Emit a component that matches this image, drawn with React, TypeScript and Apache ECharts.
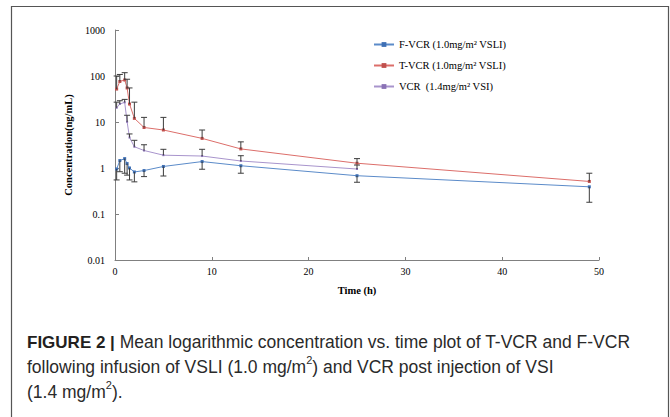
import React, { useEffect, useRef } from "react";
import * as echarts from "echarts";

// Sampling times (h)
const times = [0.17, 0.5, 1, 1.25, 1.5, 2, 3, 5, 9, 13, 25, 49];
// F-VCR (1.0 mg/m2 VSLI) mean and lower error end
const fvcr = [0.95, 1.45, 1.6, 1.25, 1.0, 0.82, 0.88, 1.08, 1.38, 1.12, 0.68, 0.39];
const fvcrLower = [0.55, 0.83, 0.77, 0.7, 0.55, 0.5, 0.65, 0.67, 0.94, 0.77, 0.49, 0.18];
// T-VCR (1.0 mg/m2 VSLI) mean and upper error end
const tvcr = [52, 76, 82, 55, 24.6, 12, 7.6, 6.7, 4.4, 2.6, 1.27, 0.51];
const tvcrUpper = [100, 108, 118, 85, 55, 27, 12.6, 12.6, 6.7, 3.7, 1.6, 0.77];
// VCR (1.4 mg/m2 VSI) mean and upper error end (sampled to 25 h)
const vcrTimes = [0.17, 0.5, 1, 1.25, 1.5, 2, 3, 5, 9, 13, 25];
const vcr = [20.4, 24.6, 26.8, 10.1, 4.6, 2.9, 2.4, 1.9, 1.82, 1.42, 0.95];
const vcrUpper = [27, 29, 31, 14, 5.5, 4.0, 3.2, 2.55, 2.55, 1.85, 1.16];

const seriesNames = [
  "F-VCR (1.0mg/m\u00B2 VSLI)",
  "T-VCR (1.0mg/m\u00B2 VSLI)",
  "VCR  (1.4mg/m\u00B2 VSI)",
];
const yTickLabels = ["0.01", "0.1", "1", "10", "100", "1000"];

const SERIF = "'Liberation Serif', 'Times New Roman', serif";
const SANS = "'Liberation Sans', Arial, sans-serif";

function errData(xs: number[], base: number[], end: number[]) {
  return xs.map((x, i) => [x, base[i], end[i]]);
}

function errorBarSeries(data: number[][]) {
  return {
    type: "custom",
    silent: true,
    z: 5,
    data,
    encode: { x: 0, y: [1, 2] },
    renderItem: (params: any, api: any) => {
      const x = api.value(0);
      const p0 = api.coord([x, api.value(1)]);
      const p1 = api.coord([x, api.value(2)]);
      const hw = 3;
      const style = { stroke: "#3c3c3c", lineWidth: 1 };
      return {
        type: "group",
        children: [
          { type: "line", shape: { x1: p0[0], y1: p0[1], x2: p1[0], y2: p1[1] }, style },
          { type: "line", shape: { x1: p1[0] - hw, y1: p1[1], x2: p1[0] + hw, y2: p1[1] }, style },
        ],
      };
    },
  };
}

export default function App() {
  const ref = useRef<HTMLDivElement>(null);
  useEffect(() => {
    document.body.style.margin = "0";
    if (!ref.current) return;
    const chart = echarts.init(ref.current, null, { renderer: "svg" });
    const pts = (xs: number[], ys: number[]) => xs.map((x, i) => [x, ys[i]]);
    chart.setOption({
      animation: false,
      backgroundColor: "#ffffff",
      grid: { left: 115, right: 71, top: 30, bottom: 157, containLabel: false },
      legend: {
        orient: "vertical",
        left: 368,
        top: 34,
        itemWidth: 20,
        itemHeight: 6,
        itemGap: 10,
        data: seriesNames,
        textStyle: { fontFamily: SERIF, fontSize: 10.5, color: "#000" },
      },
      xAxis: {
        type: "value",
        min: 0,
        max: 50,
        interval: 10,
        name: "Time (h)",
        nameLocation: "middle",
        nameGap: 25,
        nameTextStyle: { fontFamily: SERIF, fontSize: 10.5, fontWeight: "bold", color: "#000" },
        axisLine: { lineStyle: { color: "#808080" } },
        axisTick: { inside: true, length: 3, lineStyle: { color: "#808080" } },
        axisLabel: { fontFamily: SERIF, fontSize: 10, color: "#000", margin: 6 },
        splitLine: { show: false },
      },
      yAxis: {
        type: "log",
        logBase: 10,
        min: 0.01,
        max: 1000,
        name: "Concentration(ng/mL)",
        nameLocation: "middle",
        nameGap: 37,
        nameTextStyle: { fontFamily: SERIF, fontSize: 10.5, fontWeight: "bold", color: "#000" },
        axisLine: { show: true, lineStyle: { color: "#808080" } },
        axisTick: { show: true, inside: true, length: 4, lineStyle: { color: "#808080" } },
        axisLabel: {
          fontFamily: SERIF,
          fontSize: 10,
          color: "#000",
          margin: 10,
          formatter: (v: number) => {
            const s = Number(v.toPrecision(3)).toString();
            return yTickLabels.includes(s) ? s : "";
          },
        },
        splitLine: { show: false },
      },
      series: [
        {
          name: seriesNames[0],
          type: "line",
          data: pts(times, fvcr),
          symbol: "rect",
          symbolSize: 3,
          lineStyle: { width: 1, color: "#5b8bc9" },
          itemStyle: { color: "#3f70b5" },
          z: 3,
        },
        {
          name: seriesNames[1],
          type: "line",
          data: pts(times, tvcr),
          symbol: "rect",
          symbolSize: 3,
          lineStyle: { width: 1, color: "#dc6e6a" },
          itemStyle: { color: "#c0504d" },
          z: 3,
        },
        {
          name: seriesNames[2],
          type: "line",
          data: pts(vcrTimes, vcr),
          symbol: "rect",
          symbolSize: 2,
          lineStyle: { width: 1, color: "#a894cc" },
          itemStyle: { color: "#8a72b5" },
          z: 3,
        },
        errorBarSeries(errData(times, fvcr, fvcrLower)),
        errorBarSeries(errData(times, tvcr, tvcrUpper)),
        errorBarSeries(errData(vcrTimes, vcr, vcrUpper)),
      ],
      graphic: [
        {
          type: "polyline",
          silent: true,
          shape: { points: [[11.5, 417], [11.5, 6.5], [668.5, 6.5], [668.5, 417]] },
          style: { stroke: "#555", lineWidth: 1.2, fill: null },
        },
        {
          type: "text",
          left: 27,
          top: 333,
          silent: true,
          style: {
            text:
              "{b|FIGURE 2 |}{r| Mean logarithmic concentration vs. time plot of T-VCR and F-VCR}\n" +
              "{r|following infusion of VSLI (1.0 mg/m}{s|2}{r|) and VCR post injection of VSI}\n" +
              "{r|(1.4 mg/m}{s|2}{r|).}",
            fill: "#231f20",
            rich: {
              b: { fontFamily: SANS, fontSize: 17, fontWeight: "bold", lineHeight: 25, fill: "#231f20" },
              r: { fontFamily: SANS, fontSize: 17.5, lineHeight: 25, fill: "#2a2a2a" },
              s: { fontFamily: SANS, fontSize: 11, lineHeight: 14, verticalAlign: "top", fill: "#2a2a2a" },
            },
          },
        },
      ],
    });
    return () => chart.dispose();
  }, []);
  return <div ref={ref} style={{ width: 670, height: 417 }} />;
}
